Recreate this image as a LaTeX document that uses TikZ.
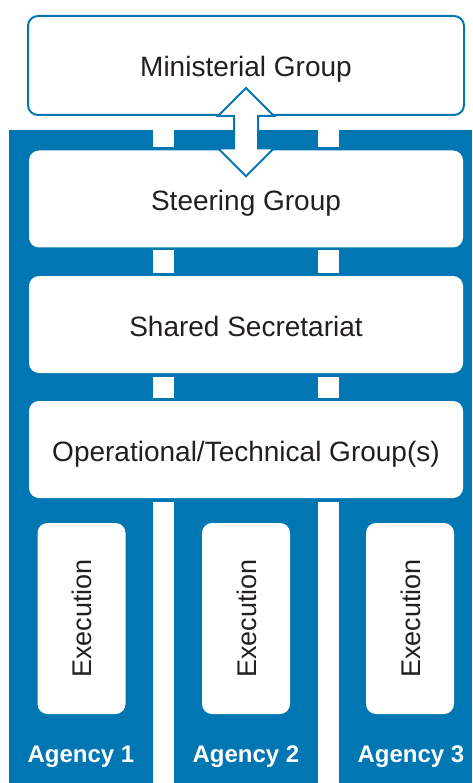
\documentclass[tikz,border=0pt]{standalone}
\usepackage{fontspec}
\setmainfont{Liberation Sans}
\usetikzlibrary{calc}
\definecolor{bblue}{RGB}{0,119,179}
\definecolor{tdark}{RGB}{35,31,32}
\begin{document}
\begin{tikzpicture}[x=1pt,y=-1pt,
  wbox/.style={fill=white, rounded corners=10pt, inner sep=0pt, text=tdark,
    font=\fontsize{28}{34}\selectfont, text height=20pt, text depth=0pt},
  widebox/.style={wbox, minimum width=434pt, minimum height=97pt, text height=23pt},
  execbox/.style={wbox, rotate=90, minimum width=191pt, minimum height=88pt,
    font=\fontsize{27}{32}\selectfont},
  agency/.style={inner sep=0pt, text=white, font=\fontsize{24}{28}\selectfont\bfseries,
    text height=17.5pt, text depth=0pt},
  column/.style={fill=bblue},
  band/.style={fill=bblue},
  dbarrow/.style={draw=bblue, line width=2pt, fill=white, line join=miter}]
\useasboundingbox (0,0) rectangle (472,783);
\fill[white] (0,0) rectangle (472,783);
% agency columns
\fill[column] (9,130) rectangle (153,783);
\fill[column] (174,130) rectangle (318,783);
\fill[column] (339,130) rectangle (472,783);
% blue bands behind the shared boxes
\fill[band] (9,147.5) rectangle (472,250.5);
\fill[band] (9,272.5) rectangle (472,376.5);
\fill[band] (9,397.5) rectangle (472,501.5);
% boxes
\node[wbox, draw=bblue, line width=2pt, minimum width=436pt, minimum height=99pt, text height=23pt] (mg) at (246,65.5) {Ministerial Group};
\node[widebox] (sg) at (246,199) {Steering Group};
\node[widebox] (ss) at (246,324.5) {Shared Secretariat};
\node[widebox] (og) at (246,449.5) {Operational/Technical Group(s)};
\node[execbox] (e1) at (81.5,618.5) {Execution};
\node[execbox] (e2) at (246,618.5) {Execution};
\node[execbox] (e3) at (410,618.5) {Execution};
\node[agency] (a1) at (81,754) {Agency 1};
\node[agency] (a2) at (246,754) {Agency 2};
\node[agency] (a3) at (411,754) {Agency 3};
% double arrow between Ministerial Group and Steering Group
\coordinate (atop) at ($(mg.south)+(0,-28)$);
\coordinate (abot) at ($(sg.north)+(0,26)$);
\draw[dbarrow] (atop) -- ($(atop)+(28,28)$) -- ($(atop)+(12,28)$)
  -- ($(abot)+(12,-28)$) -- ($(abot)+(28,-28)$) -- (abot)
  -- ($(abot)+(-28,-28)$) -- ($(abot)+(-12,-28)$)
  -- ($(atop)+(-12,28)$) -- ($(atop)+(-28,28)$) -- cycle;
\end{tikzpicture}
\end{document}
